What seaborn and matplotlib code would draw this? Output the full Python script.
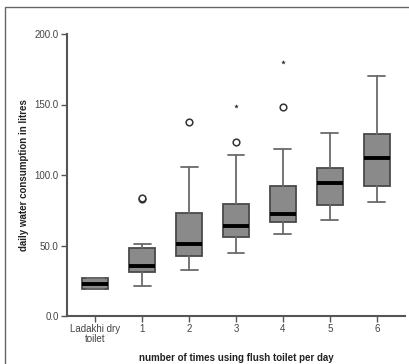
import matplotlib
matplotlib.use("Agg")
import matplotlib.pyplot as plt
import seaborn as sns
from matplotlib.patches import Rectangle

categories = ["Ladakhi dry\ntoilet", "1", "2", "3", "4", "5", "6"]
whisker_low = [19.0, 21.3, 32.7, 44.5, 58.0, 68.2, 81.0]
q1 = [19.5, 31.0, 42.7, 55.9, 66.8, 78.4, 92.0]
median = [22.7, 35.8, 51.2, 63.5, 72.5, 94.5, 111.8]
q3 = [26.7, 48.1, 73.0, 79.6, 92.4, 105.0, 129.4]
whisker_high = [27.3, 51.2, 105.7, 114.2, 118.2, 130.0, 170.0]
outliers = [[], [83.0, 83.4], [137.4], [123.7], [148.3], [], []]
extremes = [[], [], [], [148.8], [180.0], [], []]
y_ticks = [0.0, 50.0, 100.0, 150.0, 200.0]

sns.set_theme(style="ticks")
plt.rcParams["font.family"] = ["Liberation Sans", "DejaVu Sans"]

fig = plt.figure(figsize=(4.09, 3.64), dpi=100)
ax = fig.add_axes([67/409, 48/364, 338/409, 282/364])

stats = []
for i, c in enumerate(categories):
    stats.append(dict(label=c, whislo=whisker_low[i], q1=q1[i], med=median[i],
                      q3=q3[i], whishi=whisker_high[i], fliers=outliers[i]))

ax.bxp(stats, positions=list(range(len(categories))), widths=0.55, capwidths=0.36,
       patch_artist=True, showfliers=True,
       boxprops=dict(facecolor="#8a8a8a", edgecolor="#4a4a4a", linewidth=1.3),
       whiskerprops=dict(color="#6a6a6a", linewidth=1.3),
       capprops=dict(color="#6a6a6a", linewidth=1.3),
       medianprops=dict(color="black", linewidth=2.8),
       flierprops=dict(marker="o", markerfacecolor="white", markeredgecolor="#333333",
                       markersize=4.8, markeredgewidth=1.1))

ex_x, ex_y = [], []
for i, vals in enumerate(extremes):
    for v in vals:
        ex_x.append(i)
        ex_y.append(v)
sns.scatterplot(x=ex_x, y=ex_y, ax=ax, marker="*", s=12, color="#222222", linewidth=0)

ax.set_xlim(-0.6, 6.6)
ax.set_ylim(0, 200)
ax.set_yticks(y_ticks)
ax.set_yticklabels([f"{t:.1f}" for t in y_ticks])
ax.set_xticks(range(len(categories)))
ax.set_xticklabels(categories, linespacing=1.0)
ax.tick_params(axis="both", labelsize=7, colors="#555555", length=4, width=1.0,
               labelcolor="#444444", pad=2)
for s in ["top", "right"]:
    ax.spines[s].set_visible(False)
for s in ["left", "bottom"]:
    ax.spines[s].set_color("#555555")
    ax.spines[s].set_linewidth(1.5)

ax.set_ylabel("daily water consumption in litres", fontsize=7, fontweight="bold",
              color="#222222", labelpad=4)
ax.set_xlabel("number of times using flush toilet per day", fontsize=7,
              fontweight="bold", color="#222222", labelpad=6)

fig.patches.append(Rectangle((5/409, -0.1), 1.2, (364-7)/364 + 0.1,
                             transform=fig.transFigure, fill=False,
                             edgecolor="#666666", linewidth=1.0))

fig.savefig("out.png", dpi=100)
